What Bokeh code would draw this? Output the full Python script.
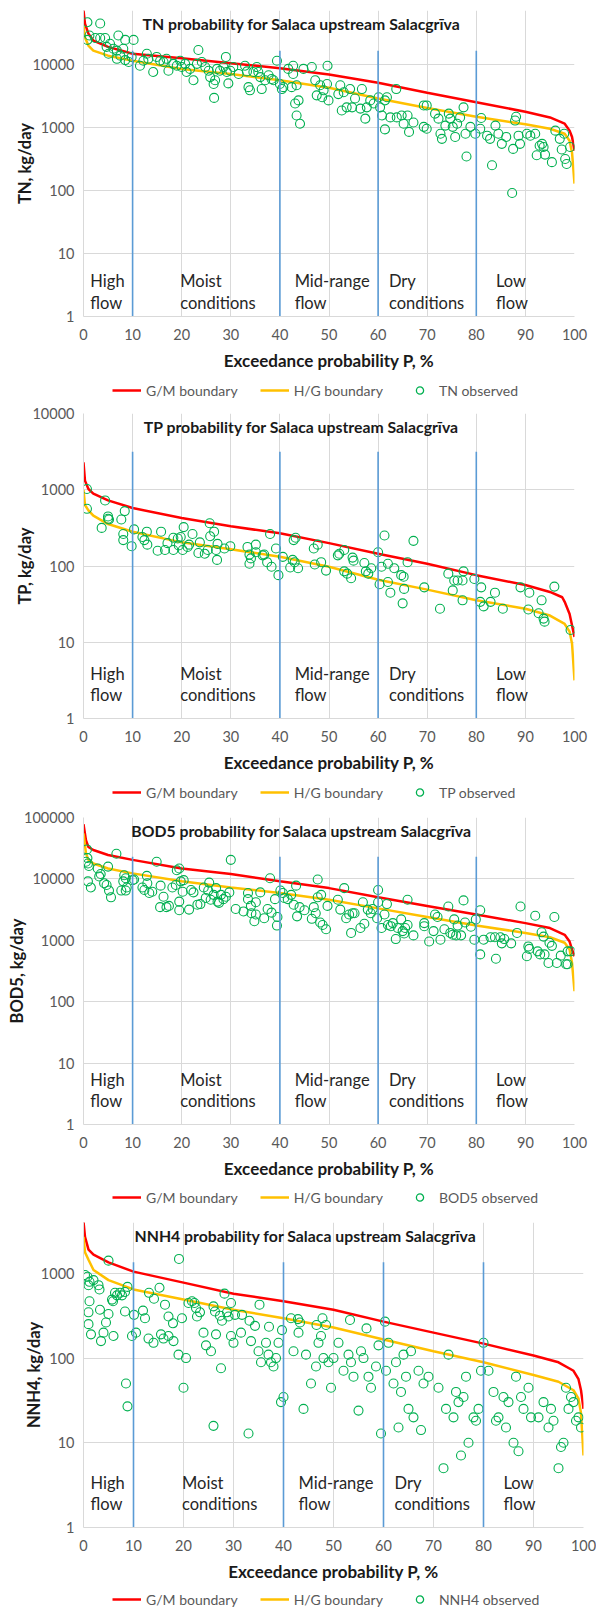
from bokeh.plotting import figure
from bokeh.models import (Label, Legend, LegendItem, FixedTicker, Range1d,
                          PrintfTickFormatter)
from bokeh.layouts import column
from bokeh.embed import file_html
from bokeh.resources import INLINE

FONT = "Lato"

# ---------------------------------------------------------------- data
# All load values are read off the log axes as exponents (log10 kg/day).
flow_class_bounds = [10, 40, 60, 80]
region_p = [1.4, 19.7, 43.0, 62.2, 84.0]
region_line1 = ["High", "Moist", "Mid-range", "Dry", "Low"]
region_line2 = ["flow", "conditions", "flow", "conditions", "flow"]

# ---- TN
tn_gm_p = [0, 0.3, 1, 2, 5, 10, 20, 30, 40, 50, 60, 70, 80, 90, 95, 98, 99, 99.5, 100]
tn_gm_exp = [4.86, 4.65, 4.49, 4.38, 4.28, 4.17, 4.10, 4.02, 3.94, 3.84, 3.71, 3.55, 3.40, 3.25, 3.16, 3.06, 2.95, 2.85, 2.63]
tn_hg_p = [0, 0.3, 1, 2, 5, 10, 20, 30, 40, 50, 60, 70, 80, 90, 95, 98, 99, 99.5, 100]
tn_hg_exp = [4.62, 4.43, 4.30, 4.22, 4.14, 4.06, 3.93, 3.85, 3.75, 3.63, 3.46, 3.31, 3.17, 3.05, 2.98, 2.90, 2.79, 2.60, 2.11]
tn_class_top_exp = 4.22
tn_obs = [
    (0.8, 4.67), (3.4, 4.65), (0.8, 4.39), (1.2, 4.46), (2.4, 4.42), (3.4, 4.42), (4.4, 4.42), (5.4, 4.33),
    (4.7, 4.28), (6.1, 4.25), (5.1, 4.17), (7.1, 4.46), (8.5, 4.39), (10.2, 4.39), (6.8, 4.22), (8.1, 4.25),
    (7.5, 4.14), (6.8, 4.09), (8.5, 4.07), (9.2, 4.04), (9.8, 4.12), (11.5, 3.98), (12.2, 4.06), (12.9, 4.17),
    (13.2, 4.09), (14.2, 3.88), (14.9, 4.12), (15.6, 4.06), (16.3, 4.04), (16.9, 4.09), (17.3, 3.90), (18.3, 4.01),
    (19.0, 3.98), (19.7, 4.06), (20.0, 3.96), (20.7, 4.01), (21.0, 3.88), (21.7, 3.93), (22.4, 3.75), (23.4, 4.23),
    (23.1, 4.01), (24.1, 4.04), (24.8, 3.96), (25.5, 3.90), (25.8, 3.80), (26.5, 3.69), (26.8, 3.75), (26.6, 3.47),
    (27.2, 3.93), (27.8, 3.90), (28.5, 3.96), (29.0, 4.12), (29.2, 3.88), (29.5, 3.70), (29.9, 3.90), (30.5, 3.96),
    (31.6, 3.85), (32.9, 3.98), (33.3, 3.89), (33.6, 3.64), (33.9, 3.59), (34.6, 3.88), (35.3, 3.96), (35.6, 3.88),
    (36.0, 3.80), (36.3, 3.61), (37.0, 3.75), (37.7, 3.83), (38.3, 3.77), (38.7, 3.75), (39.4, 4.06), (40.0, 3.69),
    (40.4, 3.61), (40.7, 3.64), (41.7, 3.93), (42.7, 3.98), (42.7, 3.85), (42.4, 3.64), (43.4, 3.67), (43.8, 3.43),
    (43.4, 3.19), (44.1, 3.06), (44.8, 3.93), (46.5, 3.96), (49.7, 3.98), (43.1, 3.38), (47.2, 3.75), (48.2, 3.67),
    (48.9, 3.59), (47.5, 3.51), (48.6, 3.48), (49.6, 3.69), (49.9, 3.43), (52.3, 3.67), (51.9, 3.53), (53.0, 3.56),
    (52.6, 3.27), (53.6, 3.32), (54.7, 3.32), (54.3, 3.61), (55.3, 3.46), (56.7, 3.61), (56.4, 3.30), (57.4, 3.14),
    (57.7, 3.32), (58.4, 3.43), (59.1, 3.38), (60.1, 3.48), (60.4, 3.32), (60.8, 3.19), (61.4, 3.43), (61.8, 3.48),
    (61.4, 2.97), (62.5, 3.16), (63.7, 3.61), (63.8, 3.16), (64.8, 3.19), (65.2, 3.06), (66.0, 3.19), (66.3, 2.93),
    (67.2, 3.08), (69.3, 3.01), (69.9, 2.98), (69.3, 3.35), (69.9, 3.35), (71.6, 3.22), (72.3, 3.14), (72.7, 2.90),
    (73.0, 2.82), (73.7, 3.03), (74.4, 3.22), (74.7, 3.14), (75.2, 3.01), (75.7, 2.85), (76.1, 3.06), (76.7, 3.16),
    (77.4, 3.32), (78.0, 2.54), (77.8, 2.90), (78.8, 3.01), (79.8, 2.90), (80.8, 2.98), (81.0, 3.15), (82.2, 2.87),
    (82.8, 2.82), (83.2, 2.40), (83.9, 3.03), (84.5, 2.90), (85.2, 2.74), (86.1, 2.85), (87.3, 1.96), (87.5, 2.66),
    (87.9, 3.11), (88.1, 3.17), (88.6, 2.87), (88.9, 2.74), (90.3, 2.90), (91.0, 2.87), (92.0, 2.90), (92.3, 2.56),
    (92.9, 2.71), (93.4, 2.74), (93.7, 2.69), (94.0, 2.57), (95.4, 2.45), (96.1, 2.95), (97.0, 2.82), (97.4, 2.65),
    (97.9, 2.90), (98.1, 2.50), (98.4, 2.42), (99.1, 2.69),
]

# ---- TP
tp_gm_p = [0, 0.3, 1, 2, 5, 10, 20, 30, 40, 50, 60, 70, 80, 90, 95, 97.5, 98, 99, 99.5, 100]
tp_gm_exp = [3.36, 3.12, 3.01, 2.95, 2.86, 2.76, 2.63, 2.52, 2.43, 2.30, 2.16, 2.03, 1.88, 1.75, 1.66, 1.59, 1.53, 1.37, 1.22, 1.07]
tp_hg_p = [0, 0.3, 1, 2, 5, 10, 20, 30, 40, 50, 60, 70, 80, 90, 95, 98, 99, 99.5, 100]
tp_hg_exp = [3.00, 2.80, 2.73, 2.66, 2.55, 2.45, 2.31, 2.22, 2.12, 1.99, 1.82, 1.69, 1.55, 1.44, 1.35, 1.24, 1.14, 0.98, 0.50]
tp_class_top_exp = 3.50
tp_obs = [
    (0.7, 3.01), (0.7, 2.75), (4.4, 2.86), (3.7, 2.50), (5.0, 2.65), (5.2, 2.61), (5.0, 2.62), (7.7, 2.61),
    (8.4, 2.72), (8.1, 2.42), (8.1, 2.34), (10.3, 2.48), (9.8, 2.26), (12.0, 2.38), (12.9, 2.45), (12.4, 2.34),
    (13.0, 2.28), (15.1, 2.20), (15.8, 2.45), (17.1, 2.30), (16.6, 2.21), (18.3, 2.21), (18.3, 2.37), (19.2, 2.36),
    (19.8, 2.38), (19.4, 2.27), (20.2, 2.21), (20.4, 2.51), (21.2, 2.25), (21.5, 2.28), (22.2, 2.42), (23.4, 2.17),
    (23.7, 2.31), (24.7, 2.16), (25.3, 2.21), (25.7, 2.56), (25.8, 2.39), (26.6, 2.45), (27.0, 2.21), (27.2, 2.08),
    (27.3, 2.29), (28.7, 2.23), (29.9, 2.26), (33.4, 2.25), (33.8, 2.15), (33.8, 2.03), (34.1, 2.10), (35.1, 2.28),
    (35.1, 2.18), (36.5, 2.14), (36.8, 2.15), (38.0, 2.42), (37.4, 2.05), (38.3, 1.99), (39.2, 2.23), (39.7, 1.88),
    (40.6, 2.12), (42.1, 1.98), (42.8, 2.34), (42.6, 2.08), (43.2, 2.37), (43.0, 2.05), (43.7, 1.97), (46.9, 2.23),
    (47.7, 2.28), (47.1, 2.02), (48.4, 2.05), (49.4, 1.94), (51.8, 2.14), (52.1, 2.16), (53.1, 2.21), (54.8, 2.11),
    (55.0, 2.07), (53.1, 1.93), (53.7, 1.90), (54.5, 1.84), (57.2, 2.04), (57.5, 1.93), (58.6, 1.97), (58.0, 1.90),
    (60.0, 2.18), (60.3, 1.76), (60.7, 1.99), (61.3, 2.40), (62.0, 2.03), (62.0, 1.79), (62.5, 1.65), (63.3, 1.97),
    (64.7, 1.88), (65.2, 1.86), (65.3, 1.70), (66.0, 2.05), (67.2, 2.33), (69.4, 1.72), (74.3, 1.90), (75.2, 1.68),
    (75.5, 1.81), (76.2, 1.81), (77.2, 1.81), (77.4, 1.93), (79.6, 1.83), (81.0, 1.72), (83.8, 1.65), (89.0, 1.72),
    (90.8, 1.65), (95.9, 1.73), (65.0, 1.51), (72.6, 1.44), (77.2, 1.55), (80.8, 1.53), (81.5, 1.47), (82.9, 1.53),
    (85.4, 1.44), (90.6, 1.43), (92.7, 1.38), (93.7, 1.31), (93.9, 1.27), (93.3, 1.55), (99.2, 1.16),
]

# ---- BOD5
bod_gm_p = [0, 0.5, 1, 2, 5, 10, 20, 30, 40, 50, 60, 70, 80, 90, 95, 98, 99, 99.5, 100]
bod_gm_exp = [4.89, 4.63, 4.52, 4.47, 4.39, 4.31, 4.17, 4.08, 3.96, 3.85, 3.70, 3.56, 3.42, 3.28, 3.20, 3.09, 2.98, 2.85, 2.74]
bod_hg_p = [0, 0.5, 1, 2, 5, 10, 20, 30, 40, 50, 60, 70, 80, 90, 95, 98, 99, 99.5, 100]
bod_hg_exp = [4.74, 4.42, 4.31, 4.25, 4.17, 4.09, 3.96, 3.86, 3.77, 3.66, 3.52, 3.38, 3.24, 3.12, 3.05, 2.96, 2.85, 2.63, 2.17]
bod_class_top_exp = 4.36
bod_obs = [
    (0.7, 4.48), (0.5, 4.28), (0.8, 4.34), (0.9, 4.25), (1.1, 4.21), (0.9, 3.96), (1.5, 3.86), (2.9, 4.17),
    (3.2, 4.04), (3.5, 4.08), (4.2, 3.93), (4.7, 3.90), (5.0, 4.20), (5.2, 3.81), (5.6, 3.70), (6.7, 4.41),
    (7.7, 3.81), (8.1, 3.96), (8.3, 4.06), (8.6, 4.01), (8.8, 3.86), (8.6, 3.81), (10.0, 3.98), (10.3, 3.99),
    (12.0, 3.86), (12.4, 3.82), (12.9, 4.05), (13.0, 3.93), (13.4, 3.77), (14.0, 3.79), (14.9, 4.28), (15.7, 3.89),
    (16.3, 3.71), (15.6, 3.54), (16.9, 3.54), (17.4, 3.56), (18.1, 3.86), (18.8, 3.90), (19.0, 4.14), (19.5, 4.17),
    (19.8, 3.96), (20.4, 3.98), (20.2, 3.79), (19.5, 3.63), (19.5, 3.49), (21.5, 3.50), (21.9, 3.82), (22.4, 3.78),
    (23.2, 3.58), (23.8, 3.59), (24.5, 3.86), (24.9, 3.69), (25.4, 3.81), (25.6, 3.94), (25.9, 3.66), (26.5, 3.74),
    (27.0, 3.85), (27.3, 3.63), (27.6, 3.61), (28.0, 3.74), (28.5, 3.67), (29.0, 3.71), (29.7, 3.78), (30.0, 4.31),
    (31.0, 3.51), (32.6, 3.47), (33.5, 3.77), (33.5, 3.67), (34.1, 3.56), (34.2, 3.44), (34.8, 3.31), (35.1, 3.42),
    (35.1, 3.62), (36.0, 3.78), (36.8, 3.36), (37.5, 3.51), (38.0, 4.01), (38.3, 3.45), (39.0, 3.67), (39.4, 3.24),
    (39.5, 3.38), (40.1, 3.81), (40.6, 3.77), (40.9, 3.69), (41.6, 3.67), (42.3, 3.74), (42.8, 3.58), (43.3, 3.89),
    (43.5, 3.39), (44.0, 3.54), (45.0, 3.49), (46.5, 3.35), (46.9, 3.54), (47.3, 3.44), (47.7, 3.99), (47.7, 3.70),
    (48.4, 3.74), (48.2, 3.29), (48.7, 3.25), (49.4, 3.18), (49.7, 3.56), (51.8, 3.66), (52.3, 3.50), (53.1, 3.85),
    (53.5, 3.36), (54.1, 3.42), (54.5, 3.12), (54.8, 3.44), (55.2, 3.44), (56.4, 3.20), (56.9, 3.62), (57.2, 3.27),
    (57.9, 3.50), (58.5, 3.44), (58.9, 3.51), (59.8, 3.36), (60.0, 3.82), (60.0, 3.62), (60.7, 3.20), (61.3, 3.42),
    (61.8, 3.59), (62.0, 3.25), (62.6, 3.23), (63.0, 3.28), (63.6, 3.02), (64.0, 3.20), (64.7, 3.34), (65.0, 3.15),
    (65.5, 3.20), (65.3, 3.11), (66.0, 3.66), (66.0, 3.25), (67.2, 3.08), (69.4, 3.28), (69.4, 3.23), (70.4, 2.98),
    (71.3, 3.15), (71.6, 3.42), (72.1, 3.38), (72.7, 3.01), (73.5, 3.18), (74.3, 3.55), (74.7, 3.12), (75.2, 3.09),
    (75.5, 3.34), (75.9, 3.08), (76.2, 3.24), (76.9, 3.08), (77.4, 3.65), (77.7, 3.29), (78.9, 3.22), (79.6, 3.01),
    (79.9, 3.34), (80.8, 3.49), (80.8, 2.77), (81.5, 3.01), (82.9, 3.05), (83.8, 3.05), (84.0, 2.70), (84.9, 3.05),
    (85.2, 2.95), (85.7, 3.02), (87.1, 2.95), (88.3, 3.12), (89.0, 3.55), (90.3, 2.74), (90.6, 2.90), (90.8, 2.86),
    (92.0, 3.40), (92.5, 2.82), (93.0, 2.77), (93.3, 3.13), (93.7, 3.06), (93.9, 2.77), (94.7, 2.63), (94.9, 2.96),
    (95.4, 2.91), (95.9, 3.38), (96.4, 2.63), (97.2, 2.75), (98.3, 2.61), (98.6, 2.61), (98.6, 2.82), (99.2, 2.82),
]

# ---- NNH4
nh4_gm_p = [0, 0.3, 1, 2, 5, 10, 20, 30, 40, 50, 60, 70, 80, 90, 95, 98, 99, 99.5, 100]
nh4_gm_exp = [3.61, 3.43, 3.28, 3.22, 3.13, 3.02, 2.89, 2.76, 2.67, 2.57, 2.43, 2.30, 2.17, 2.03, 1.95, 1.85, 1.75, 1.62, 1.40]
nh4_hg_p = [0, 0.3, 1, 2, 5, 10, 20, 30, 40, 50, 60, 70, 80, 90, 95, 98, 99, 99.5, 100]
nh4_hg_exp = [3.43, 3.25, 3.16, 3.04, 2.92, 2.81, 2.69, 2.57, 2.47, 2.36, 2.22, 2.08, 1.95, 1.80, 1.72, 1.62, 1.52, 1.35, 0.85]
nh4_class_top_exp = 3.13
nh4_obs = [
    (0.3, 2.98), (0.8, 2.96), (1.2, 2.90), (2.0, 2.92), (1.0, 2.86), (3.0, 2.86), (3.2, 2.81), (5.0, 3.15),
    (5.7, 2.69), (6.3, 2.77), (6.7, 2.74), (7.3, 2.77), (7.7, 2.74), (8.3, 2.78), (8.8, 2.84), (5.9, 2.67),
    (1.2, 2.67), (1.0, 2.54), (1.0, 2.40), (3.3, 2.57), (5.0, 2.52), (4.5, 2.42), (8.3, 2.55), (10.1, 2.51),
    (11.9, 2.56), (12.3, 2.47), (13.1, 2.77), (14.1, 2.70), (15.2, 2.83), (16.3, 2.63), (17.0, 2.49), (17.9, 2.41),
    (19.1, 3.17), (19.7, 2.47), (21.0, 2.65), (21.7, 2.67), (22.2, 2.65), (22.5, 2.59), (23.3, 2.54), (22.7, 2.49),
    (26.0, 2.61), (26.3, 2.55), (27.3, 2.50), (27.7, 2.44), (28.2, 2.76), (28.7, 2.54), (29.0, 2.49), (29.5, 2.65),
    (30.3, 2.51), (31.7, 2.51), (33.2, 2.44), (35.2, 2.63), (34.3, 2.38), (37.1, 2.37), (39.7, 2.33), (41.5, 2.47),
    (42.9, 2.46), (43.3, 2.42), (46.6, 2.39), (47.8, 2.47), (48.5, 2.39), (53.3, 2.45), (56.6, 2.35), (60.3, 2.43),
    (1.5, 2.28), (3.5, 2.20), (4.0, 2.30), (6.0, 2.26), (8.5, 1.70), (8.8, 1.43), (9.7, 2.26), (10.5, 2.30),
    (13.0, 2.23), (14.0, 2.18), (15.5, 2.28), (16.0, 2.23), (17.0, 2.26), (18.0, 2.20), (19.0, 2.04), (20.0, 1.65),
    (20.5, 2.00), (24.0, 2.30), (24.5, 2.15), (25.5, 2.08), (26.0, 1.20), (26.5, 2.28), (27.5, 1.88), (29.5, 2.26),
    (30.0, 2.18), (31.5, 2.30), (33.0, 1.11), (33.5, 2.20), (35.0, 2.08), (35.5, 1.95), (36.5, 2.18), (37.0, 2.04),
    (37.5, 1.95), (38.0, 1.90), (38.5, 2.00), (39.0, 2.18), (39.5, 1.48), (40.0, 1.54), (42.0, 2.08), (43.0, 2.30),
    (44.0, 1.40), (44.5, 2.04), (45.5, 1.70), (46.5, 1.90), (47.0, 2.18), (47.5, 2.26), (48.0, 2.00), (49.0, 1.95),
    (49.5, 1.65), (50.0, 2.00), (51.0, 2.18), (52.0, 1.85), (53.0, 2.04), (53.5, 1.95), (54.0, 1.78), (55.0, 1.38),
    (55.5, 2.08), (56.0, 2.00), (57.0, 1.78), (57.5, 1.65), (58.5, 1.90), (59.0, 2.15), (59.5, 1.11), (60.5, 1.85),
    (61.0, 2.18), (62.0, 1.70), (62.5, 1.95), (63.0, 1.18), (63.5, 1.60), (64.0, 2.04), (64.5, 1.78), (65.0, 1.40),
    (65.5, 2.08), (66.0, 1.30), (67.0, 1.85), (67.5, 1.15), (68.0, 1.70), (69.0, 1.78), (71.0, 1.65), (72.0, 0.70),
    (72.5, 1.40), (73.0, 2.04), (74.0, 1.30), (74.5, 1.60), (75.0, 1.48), (75.5, 0.85), (76.0, 1.54), (76.5, 1.78),
    (77.0, 1.00), (78.0, 1.30), (78.5, 1.26), (79.0, 1.40), (79.5, 1.85), (80.0, 2.18), (81.0, 1.85), (82.0, 1.60),
    (82.5, 1.26), (83.0, 1.30), (84.0, 1.54), (84.5, 1.18), (85.0, 1.48), (86.0, 1.00), (86.5, 1.78), (87.0, 0.90),
    (87.5, 1.54), (88.0, 1.40), (89.0, 1.65), (89.5, 1.30), (91.0, 1.30), (92.0, 1.48), (93.0, 1.18), (93.5, 1.40),
    (94.0, 1.26), (95.0, 0.70), (95.5, 0.95), (96.0, 1.00), (96.5, 1.65), (97.0, 1.40), (97.5, 1.54), (98.0, 1.48),
    (98.5, 1.26), (99.0, 1.30), (99.5, 1.18),
]

x_ticks = [0, 10, 20, 30, 40, 50, 60, 70, 80, 90, 100]

panels = [
    dict(name="TN", ylab="TN, kg/day", gm=(tn_gm_p, tn_gm_exp), hg=(tn_hg_p, tn_hg_exp), obs=tn_obs,
         top=tn_class_top_exp, ymax_exp=4.857, yticks=[1, 10, 100, 1000, 10000],
         height=378, mbt=10, frame_w=491, frame_h=306, lab=(36, 14), tx=218, leg_h=24),
    dict(name="TP", ylab="TP, kg/day", gm=(tp_gm_p, tp_gm_exp), hg=(tp_hg_p, tp_hg_exp), obs=tp_obs,
         top=tp_class_top_exp, ymax_exp=4.0, yticks=[1, 10, 100, 1000, 10000],
         height=378, mbt=11, frame_w=491, frame_h=305, lab=(45, 24), tx=218, leg_h=24),
    dict(name="BOD5", ylab="BOD5, kg/day", gm=(bod_gm_p, bod_gm_exp), hg=(bod_hg_p, bod_hg_exp), obs=bod_obs,
         top=bod_class_top_exp, ymax_exp=5.0, yticks=[1, 10, 100, 1000, 10000, 100000],
         height=381, mbt=13, frame_w=491, frame_h=307, lab=(45, 24), tx=218, leg_h=24),
    dict(name="NNH4", ylab="NNH4, kg/day", gm=(nh4_gm_p, nh4_gm_exp), hg=(nh4_hg_p, nh4_hg_exp), obs=nh4_obs,
         top=nh4_class_top_exp, ymax_exp=3.6, yticks=[1, 10, 100, 1000],
         height=380, mbt=13, frame_w=500, frame_h=305, lab=(45, 24), tx=222, leg_h=20),
]

GRID = "#D9D9D9"
TICK_COL = "#595959"
TEXT_COL = "#1a1a1a"
RED, ORANGE, GREEN, BLUE = "#FF0000", "#FFC000", "#00B050", "#5B9BD5"
FIG_W = 596
LEFT = 83


def to_load(exps):
    return [10 ** e for e in exps]


def make_panel(c):
    p = figure(width=FIG_W, height=c["height"], x_range=Range1d(0, 100),
               y_range=Range1d(1, 10 ** c["ymax_exp"]), y_axis_type="log",
               output_backend="svg", toolbar_location=None,
               min_border_left=LEFT, min_border_right=FIG_W - LEFT - c["frame_w"],
               min_border_top=c["mbt"],
               min_border_bottom=c["height"] - c["mbt"] - c["frame_h"])
    p.outline_line_color = None
    p.background_fill_color = "white"
    p.border_fill_color = "white"

    yt = FixedTicker(ticks=c["yticks"], minor_ticks=[])
    xt = FixedTicker(ticks=x_ticks, minor_ticks=[])
    p.yaxis.ticker = yt
    p.xaxis.ticker = xt
    p.ygrid.ticker = yt
    p.xgrid.ticker = xt
    p.yaxis.formatter = PrintfTickFormatter(format="%d")
    for g in (p.xgrid, p.ygrid):
        g.grid_line_color = GRID
        g.grid_line_width = 1
    for ax in (p.xaxis, p.yaxis):
        ax.axis_line_color = GRID
        ax.major_tick_line_color = None
        ax.minor_tick_line_color = None
        ax.major_tick_out = 0
        ax.major_tick_in = 0
        ax.minor_tick_out = 0
        ax.minor_tick_in = 0
        ax.major_label_text_font = FONT
        ax.major_label_text_font_size = "14.5px"
        ax.major_label_text_color = TICK_COL
        ax.axis_label_text_font = FONT
        ax.axis_label_text_font_style = "bold"
        ax.axis_label_text_color = TEXT_COL
    p.xaxis.axis_label_text_font_size = "17px"
    p.yaxis.axis_label_text_font_size = "16.5px"
    p.xaxis.axis_label = "Exceedance probability P, %"
    p.yaxis.axis_label = c["ylab"]
    p.xaxis.major_label_standoff = 12
    p.xaxis.axis_label_standoff = 7
    p.yaxis.major_label_standoff = 9
    p.yaxis.axis_label_standoff = -6

    p.line(list(c["gm"][0]), to_load(c["gm"][1]), line_color=RED, line_width=2.5)
    p.line(list(c["hg"][0]), to_load(c["hg"][1]), line_color=ORANGE, line_width=2.5)
    ox = [o[0] for o in c["obs"]]
    oy = to_load([o[1] for o in c["obs"]])
    p.scatter(ox, oy, marker="circle", size=9, fill_color=None,
              line_color=GREEN, line_width=1.1)
    p.segment(x0=flow_class_bounds, y0=[1] * len(flow_class_bounds),
              x1=flow_class_bounds, y1=[10 ** c["top"]] * len(flow_class_bounds),
              line_color=BLUE, line_width=1.6)

    for xr, t1, t2 in zip(region_p, region_line1, region_line2):
        for txt, off in ((t1, c["lab"][0]), (t2, c["lab"][1])):
            p.add_layout(Label(x=xr, y=off, x_units="data", y_units="screen", text=txt,
                               text_font=FONT, text_font_size="16.5px", text_color="#262626",
                               text_align="left", text_baseline="middle"))

    p.add_layout(Label(x=c["tx"], y=c["frame_h"] - 13, x_units="screen", y_units="screen",
                       text=f"{c['name']} probability for Salaca upstream Salacgrīva",
                       text_font=FONT, text_font_size="15.8px", text_font_style="bold",
                       text_color=TEXT_COL, text_align="center", text_baseline="middle"))
    return p


def make_legend(c):
    """Strip below each panel carrying its legend (the series are drawn
    off-view here, only their legend swatches are visible)."""
    h = c["leg_h"]
    lg = figure(width=FIG_W, height=h, x_range=Range1d(-30, -20), y_range=Range1d(-30, -20),
                output_backend="svg", toolbar_location=None,
                x_axis_location=None, y_axis_location=None,
                min_border_left=LEFT, min_border_right=FIG_W - LEFT - c["frame_w"],
                min_border_top=0, min_border_bottom=0)
    lg.outline_line_color = None
    lg.grid.visible = False
    r_gm = lg.line(list(c["gm"][0]), to_load(c["gm"][1]), line_color=RED, line_width=2.5)
    r_hg = lg.line(list(c["hg"][0]), to_load(c["hg"][1]), line_color=ORANGE, line_width=2.5)
    r_obs = lg.scatter([o[0] for o in c["obs"]], to_load([o[1] for o in c["obs"]]),
                       marker="circle", size=8, fill_color=None,
                       line_color=GREEN, line_width=1.3)
    legend = Legend(items=[LegendItem(label="G/M boundary", renderers=[r_gm]),
                           LegendItem(label="H/G boundary", renderers=[r_hg]),
                           LegendItem(label=f"{c['name']} observed", renderers=[r_obs])],
                    orientation="horizontal", location=(112 - LEFT, (h - 18) / 2),
                    border_line_color=None, background_fill_alpha=0,
                    label_text_font=FONT, label_text_font_size="14px",
                    label_text_color=TICK_COL, glyph_width=29, glyph_height=18,
                    label_height=18, label_standoff=5, spacing=22, padding=0, margin=0)
    lg.add_layout(legend, "center")
    return lg


upper = []
for c in panels[:3]:
    upper.append(make_panel(c))
    upper.append(make_legend(c))
lower = [make_panel(panels[3]), make_legend(panels[3])]
layout = column(column(*upper, spacing=0), column(*lower, spacing=0), spacing=0)
open("out.html", "w").write(file_html(layout, INLINE))
